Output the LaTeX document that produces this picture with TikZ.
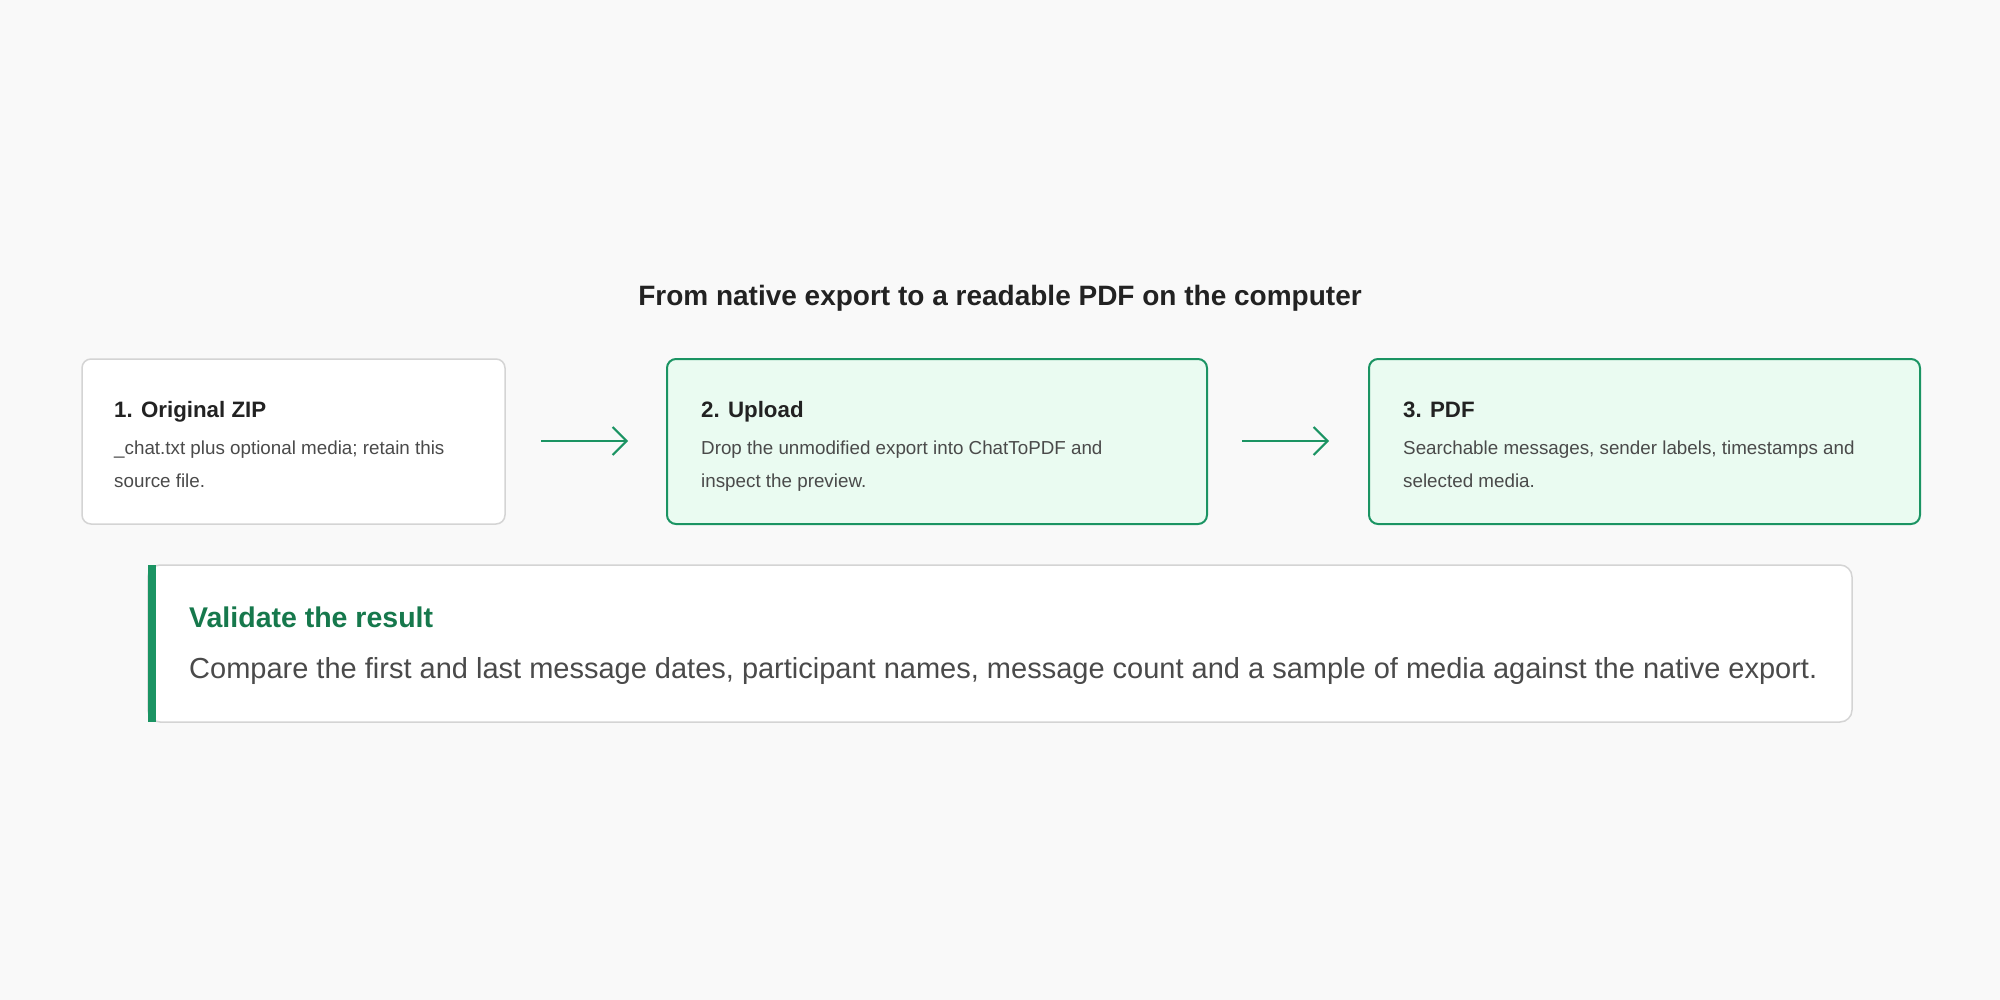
\documentclass[tikz,border=0pt]{standalone}
\usepackage{fontspec}
\setmainfont{Liberation Sans}
\usetikzlibrary{arrows.meta}
\definecolor{bg}{HTML}{F9F9F9}
\definecolor{gr}{HTML}{1B9463}
\definecolor{grfill}{HTML}{EAFBF1}
\definecolor{grtext}{HTML}{16784C}
\definecolor{txt}{HTML}{222222}
\definecolor{sub}{HTML}{4A4A4A}
\definecolor{edge}{HTML}{D4D4D4}
\tikzset{
 box/.style={draw=edge,line width=1.5pt,fill=white,rounded corners=9pt},
 gbox/.style={draw=gr,line width=2pt,fill=grfill,rounded corners=9pt},
 head/.style={anchor=base west,font=\fontsize{22.3}{26}\selectfont\bfseries,text=txt,inner sep=0},
 body/.style={anchor=north west,font=\fontsize{18.8}{33}\selectfont,text=sub,inner sep=0,align=left},
 arr/.style={draw=gr,line width=2pt,-{Straight Barb[length=14pt,width=28pt]}}
}
\begin{document}
\begin{tikzpicture}[x=1pt,y=-1pt]
\fill[bg] (0,0) rectangle (2000,1000);
\useasboundingbox (0,0) rectangle (2000,1000);
\node[font=\fontsize{28}{32}\selectfont\bfseries,text=txt] (title) at (1000,298) {From native export to a readable PDF on the computer};
\draw[box] (82,359) rectangle (505,524);
\draw[gbox] (667,359) rectangle (1207,524);
\draw[gbox] (1369,359) rectangle (1920,524);
\node[head] (h1) at (114,417) {1. Original ZIP};
\node[body] (b1) at (114,441) {\_chat.txt plus optional media; retain this\\source file.};
\node[head] (h2) at (701,417) {2. Upload};
\node[body] (b2) at (701,441) {Drop the unmodified export into ChatToPDF and\\inspect the preview.};
\node[head] (h3) at (1403,417) {3. PDF};
\node[body] (b3) at (1403,441) {Searchable messages, sender labels, timestamps and\\selected media.};
\coordinate (a1s) at (541,441); \coordinate (a1e) at (628,441);
\coordinate (a2s) at (1242,441); \coordinate (a2e) at (1329,441);
\draw[arr] (a1s) -- (a1e);
\draw[arr] (a2s) -- (a2e);
\draw[draw=edge,line width=1.5pt,fill=white,rounded corners=12pt] (148,565) rectangle (1852,722);
\fill[gr] (148,565) rectangle (156,722);
\node[anchor=base west,inner sep=0,font=\fontsize{28.5}{32}\selectfont\bfseries,text=grtext] (vh) at (189,627) {Validate the result};
\node[anchor=base west,inner sep=0,font=\fontsize{29}{32}\selectfont,text=sub] (vb) at (189,678) {Compare the first and last message dates, participant names, message count and a sample of media against the native export.};
\end{tikzpicture}
\end{document}
